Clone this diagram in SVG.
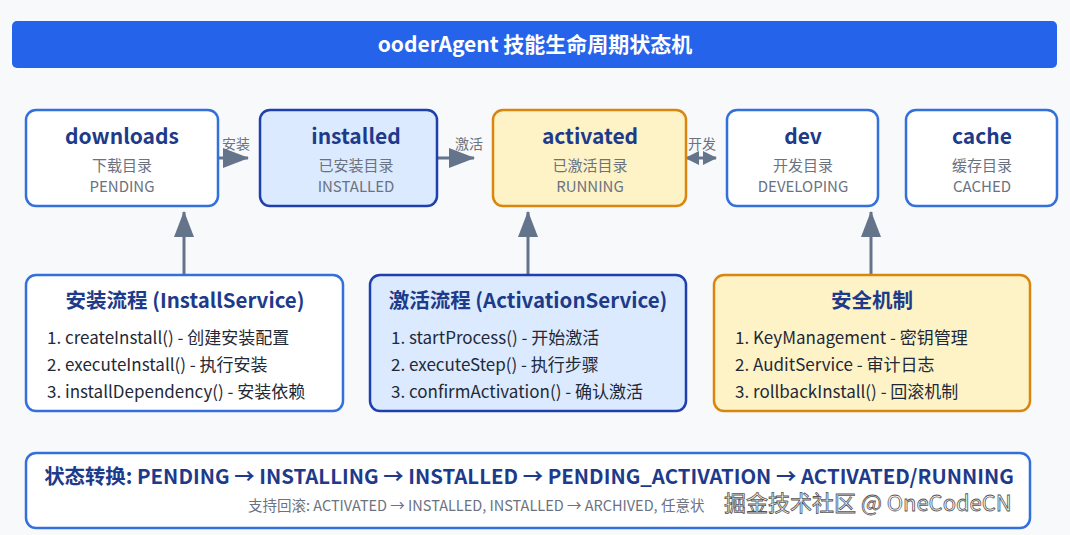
<svg xmlns="http://www.w3.org/2000/svg" width="1070" height="535" viewBox="0 0 1070 535">
<style>
text{font-family:"Noto Sans CJK SC","Noto Sans",sans-serif}
.w{fill:#fff;stroke:#3370dc;stroke-width:2.5}
.b{fill:#dbeafe;stroke:#1e40af;stroke-width:2.5}
.o{fill:#fef3c7;stroke:#d9860f;stroke-width:2.5}
.t{font-size:21px;font-weight:700;fill:#1e3a8a;text-anchor:middle}
.s{font-size:15px;fill:#6b7280;text-anchor:middle}
.h{font-size:20.5px;font-weight:700;fill:#1e3a8a;text-anchor:middle}
.i{font-size:17px;fill:#1f2937}
.l{font-size:14px;fill:#6b7280;text-anchor:middle}
.c{stroke:#64748b;stroke-width:3;fill:none}
</style>
<defs><marker id="a" markerWidth="14" markerHeight="14" refX="13" refY="7" orient="auto-start-reverse" markerUnits="userSpaceOnUse" viewBox="0 0 14 14"><path d="M0,0L14,7L0,14z" fill="#64748b"/></marker>
<marker id="m" markerWidth="26" markerHeight="20" refX="25" refY="10" orient="auto-start-reverse" markerUnits="userSpaceOnUse" viewBox="0 0 26 20"><path d="M0,0L26,10L0,20z" fill="#64748b"/></marker></defs>
<rect width="1070" height="535" fill="#f8f9fb"/>
<g id="title"><rect x="12" y="21" width="1045" height="47" rx="5" fill="#2563eb"/><text x="535" y="52" font-size="21" font-weight="700" fill="#fff" text-anchor="middle">ooderAgent 技能生命周期状态机</text></g>
<g id="connectors">
<line class="c" x1="218" y1="158" x2="248" y2="158" marker-end="url(#m)"/><text class="l" x="236" y="149">安装</text>
<line class="c" x1="437" y1="158" x2="474" y2="158" marker-end="url(#m)"/><text class="l" x="469" y="149">激活</text>
<line class="c" x1="686" y1="158" x2="716" y2="158" marker-start="url(#a)" marker-end="url(#a)"/><text class="l" x="702" y="149">开发</text>
<line class="c" x1="184" y1="275" x2="184" y2="212" marker-end="url(#m)"/>
<line class="c" x1="528" y1="275" x2="528" y2="212" marker-end="url(#m)"/>
<line class="c" x1="871" y1="275" x2="871" y2="212" marker-end="url(#m)"/>
</g>
<g id="downloads"><rect class="w" x="26" y="110" width="192" height="96" rx="10"/><text class="t" x="122" y="144">downloads</text><text class="s" x="122" y="171">下载目录</text><text class="s" x="122" y="192">PENDING</text></g>
<g id="installed"><rect class="b" x="260" y="110" width="177" height="96" rx="10"/><text class="t" x="356" y="144">installed</text><text class="s" x="356" y="171">已安装目录</text><text class="s" x="356" y="192">INSTALLED</text></g>
<g id="activated"><rect class="o" x="493" y="110" width="193" height="96" rx="10"/><text class="t" x="590" y="144">activated</text><text class="s" x="590" y="171">已激活目录</text><text class="s" x="590" y="192">RUNNING</text></g>
<g id="dev"><rect class="w" x="727" y="110" width="151" height="96" rx="10"/><text class="t" x="803" y="144">dev</text><text class="s" x="803" y="171">开发目录</text><text class="s" x="803" y="192">DEVELOPING</text></g>
<g id="cache"><rect class="w" x="906" y="110" width="151" height="96" rx="10"/><text class="t" x="982" y="144">cache</text><text class="s" x="982" y="171">缓存目录</text><text class="s" x="982" y="192">CACHED</text></g>
<g id="install-flow"><rect class="w" x="26" y="275" width="317" height="136" rx="10"/><text class="h" x="185" y="308">安装流程 (InstallService)</text><text class="i" x="47" y="344">1. createInstall() - 创建安装配置</text><text class="i" x="47" y="371">2. executeInstall() - 执行安装</text><text class="i" x="47" y="398">3. installDependency() - 安装依赖</text></g>
<g id="activation-flow"><rect class="b" x="370" y="275" width="316" height="136" rx="10"/><text class="h" x="528" y="308">激活流程 (ActivationService)</text><text class="i" x="391" y="344">1. startProcess() - 开始激活</text><text class="i" x="391" y="371">2. executeStep() - 执行步骤</text><text class="i" x="391" y="398">3. confirmActivation() - 确认激活</text></g>
<g id="security"><rect class="o" x="714" y="275" width="316" height="136" rx="10"/><text class="h" x="872" y="308">安全机制</text><text class="i" x="735" y="344">1. KeyManagement - 密钥管理</text><text class="i" x="735" y="371">2. AuditService - 审计日志</text><text class="i" x="735" y="398">3. rollbackInstall() - 回滚机制</text></g>
<g id="summary"><rect class="w" x="26" y="453" width="1004" height="75" rx="10"/><text x="529" y="484" font-size="20.4" font-weight="700" fill="#1e3a8a" text-anchor="middle">状态转换: PENDING → INSTALLING → INSTALLED → PENDING_ACTIVATION → ACTIVATED/RUNNING</text><text x="248" y="511" font-size="14.5" fill="#6b7280">支持回滚: ACTIVATED → INSTALLED, INSTALLED → ARCHIVED, 任意状</text></g>
<text x="724" y="511" font-size="22" fill="#fff" stroke="#555" stroke-width="0.8">掘金技术社区 @ OneCodeCN</text>
</svg>
